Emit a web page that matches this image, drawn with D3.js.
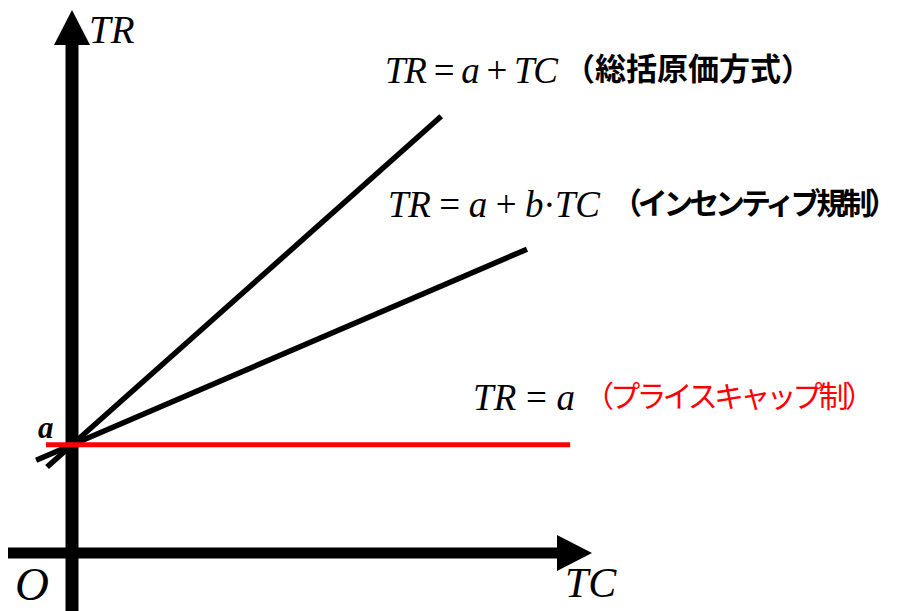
<!DOCTYPE html>
<html>
<head>
<meta charset="utf-8">
<script src="https://cdn.jsdelivr.net/npm/d3@7"></script>
<style>
  body { margin: 0; background: #fff; }
  .math { font-family: "Liberation Serif", "DejaVu Serif", serif; }
  .jp { font-family: "Noto Sans CJK JP", sans-serif; }
</style>
</head>
<body>
<div id="chart"></div>
<script>
// fixed cost a and slopes of each revenue rule  TR = a + b*TC
const a = 20.8;
const rules = ["総括原価方式", "インセンティブ規制", "プライスキャップ制"];
const slopes = [0.89, 0.43, 0];
const tcStart = [-4.8, -6.9, -5];
const tcEnd = [71, 87.5, 95.8];
const xMax = 100, yMax = 104.4;

const width = 900, height = 611;

const svg = d3.select("#chart")
  .append("svg")
    .attr("width", width)
    .attr("height", height);

const x = d3.scaleLinear().domain([0, 100]).range([72, 592]);
const y = d3.scaleLinear().domain([0, 100]).range([553, 33]);

// axes (thick bars with arrow heads)
const head = 35, half = 18;
svg.append("line")
  .attr("x1", x(0)).attr("x2", x(0))
  .attr("y1", height).attr("y2", y(yMax) + head)
  .attr("stroke", "#000").attr("stroke-width", 13);
svg.append("path")
  .attr("d", `M${x(0)},${y(yMax)} L${x(0) + half},${y(yMax) + head} L${x(0) - half},${y(yMax) + head}Z`)
  .attr("fill", "#000");

svg.append("line")
  .attr("x1", 8).attr("x2", x(xMax) - head)
  .attr("y1", y(0)).attr("y2", y(0))
  .attr("stroke", "#000").attr("stroke-width", 11);
svg.append("path")
  .attr("d", `M${x(xMax)},${y(0)} L${x(xMax) - head},${y(0) - half} L${x(xMax) - head},${y(0) + half}Z`)
  .attr("fill", "#000");

// revenue lines
const colors = ["#000", "#000", "#ff0000"];
const line = d3.line().x(d => x(d[0])).y(d => y(d[1]));
slopes.forEach(function(b, i) {
  const pts = [tcStart[i], tcEnd[i]].map(t => [t, a + b * t]);
  svg.append("path")
    .attr("d", line(pts))
    .attr("stroke", colors[i])
    .attr("stroke-width", i == 2 ? 5 : 5.5)
    .attr("fill", "none");
});

// axis labels
function label(txt, px, py, size, opts) {
  opts = opts || {};
  return svg.append("text")
    .attr("class", "math")
    .attr("x", px).attr("y", py)
    .attr("font-size", size)
    .attr("font-style", "italic")
    .attr("font-weight", opts.bold ? "bold" : "normal")
    .text(txt);
}
label("TR", 89, 43, 39);
label("a", 38, 438, 31, {bold: true});
label("O", 15, 600, 47);
label("TC", 565, 597, 42);

// equations
function equation(parts, px, py, size, len) {
  const t = svg.append("text")
    .attr("class", "math")
    .attr("x", px).attr("y", py)
    .attr("font-size", size)
    .attr("textLength", len)
    .attr("lengthAdjust", "spacing");
  parts.forEach(function(p) {
    t.append("tspan")
      .attr("font-style", p[1] ? "italic" : "normal")
      .text(p[0]);
  });
}
equation([["TR", 1], [" = ", 0], ["a", 1], [" + ", 0], ["TC", 1]], 385, 83, 37, 173);
equation([["TR", 1], [" = ", 0], ["a", 1], [" + ", 0], ["b", 1], ["·", 0], ["TC", 1]], 388, 217, 37, 212);
equation([["TR", 1], [" = ", 0], ["a", 1]], 473, 410, 37, 102);

// rule names
const jpPos = [[564, 80, 31, "bold", "#000", 248], [612, 214, 30, "bold", "#000", 286], [584, 407, 30, "normal", "#ff0000", 291]];
rules.forEach(function(r, i) {
  const p = jpPos[i];
  svg.append("text")
    .attr("class", "jp")
    .attr("x", p[0]).attr("y", p[1])
    .attr("font-size", p[2])
    .attr("font-weight", p[3])
    .attr("fill", p[4])
    .attr("textLength", p[5])
    .attr("lengthAdjust", "spacing")
    .text("（" + r + "）");
});
</script>
</body>
</html>
